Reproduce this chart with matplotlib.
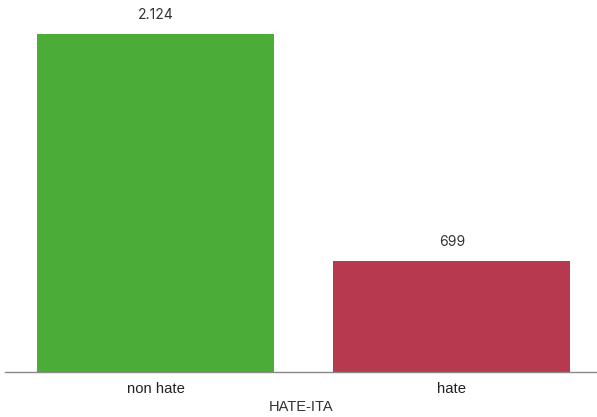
import matplotlib.pyplot as plt

categories = ['non hate', 'hate']
counts = [2124, 699]
bar_colors = ['#4bac38', '#b6394f']


def fmt_it(v):
    # separatore delle migliaia all'italiana
    return f'{v:,}'.replace(',', '.')


fig = plt.figure(figsize=(5.97, 4.17), dpi=100)
ax = fig.add_axes([5 / 597, 45 / 417, 592 / 597, 372 / 417])

x = list(range(len(categories)))
bars = ax.bar(x, counts, width=0.8, color=bar_colors, linewidth=0)

ax.set_xlim(-0.508, 1.49)
ax.set_ylim(0, 2124 * 372 / 338)

for b, v in zip(bars, counts):
    ax.text(b.get_x() + b.get_width() / 2, b.get_height() + 2124 * 12 / 338,
            fmt_it(v), ha='center', va='bottom', fontsize=10,
            color='#333333', family='Inter')

ax.set_xticks(x)
ax.set_xticklabels(categories, fontsize=10.7, color='#222222', family='Liberation Sans')
ax.tick_params(axis='x', length=0, pad=7)
ax.set_yticks([])
for s in ['top', 'left', 'right']:
    ax.spines[s].set_visible(False)
ax.spines['bottom'].set_color('#888888')
ax.spines['bottom'].set_linewidth(1)

ax.set_xlabel('HATE-ITA', fontsize=10.5, color='#333333', family='Liberation Sans', labelpad=3)

fig.savefig('out.png', dpi=100)
plt.close(fig)
